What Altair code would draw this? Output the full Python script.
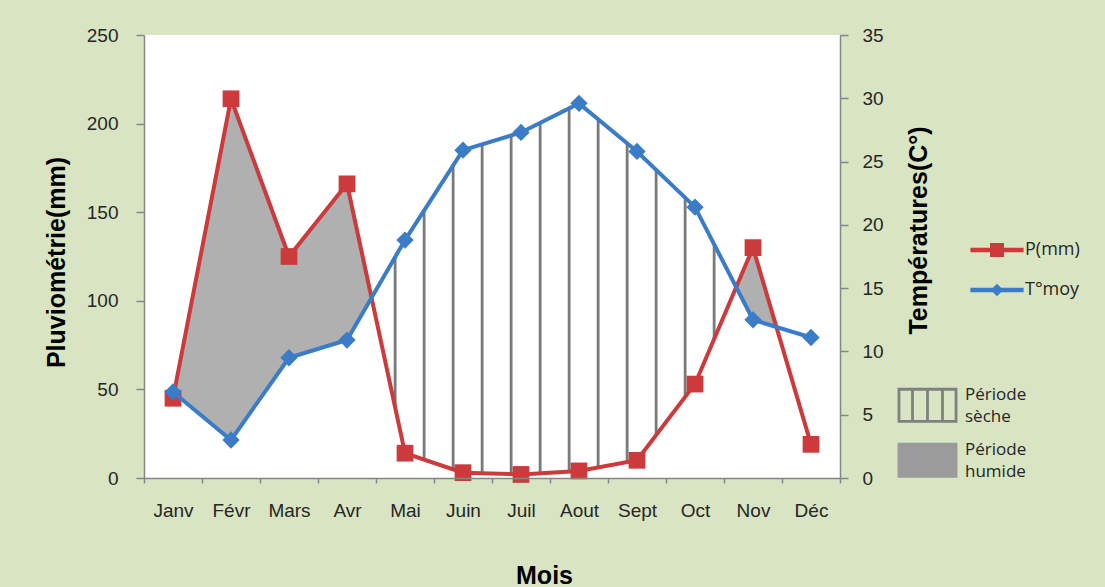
import json
import altair as alt
import pandas as pd

# ---------------- data ----------------
months = ["Janv", "Févr", "Mars", "Avr", "Mai", "Juin", "Juil", "Aout", "Sept", "Oct", "Nov", "Déc"]
precip = [45, 214, 125, 166, 14, 3, 2, 4, 10, 53, 130, 19]          # P(mm)
temp = [6.8, 3.0, 9.5, 10.9, 18.8, 25.9, 27.3, 29.6, 25.8, 21.4, 12.5, 11.1]  # T°moy (°C)
series_names = ["P(mm)", "T°moy"]
period_names = ["Période sèche", "Période humide"]
p_ticks = [0, 50, 100, 150, 200, 250]
t_ticks = [0, 5, 10, 15, 20, 25, 30, 35]

P_MAX = p_ticks[-1]
T_MAX = t_ticks[-1]
RATIO = P_MAX / T_MAX

df = pd.DataFrame({"idx": list(range(len(months))), "mois": months, "P": precip, "T": temp})
series_df = pd.DataFrame({"serie": series_names})
period_df = pd.DataFrame({"periode": period_names})
frame_df = pd.DataFrame({"x0": [-0.5], "x1": [len(months) - 0.5], "y0": [0], "y1": [P_MAX]})

# ---------------- style ----------------
FONT = "Open Sans"
BG = "#d9e4c2"
RED = "#cc3a3b"
BLUE = "#3b7cc8"
GREY = "#7a7a7a"
AXIS_GREY = "#868686"
LABEL = "#262626"

months_js = json.dumps(months, ensure_ascii=False)

x_axis = alt.Axis(
    values=[i - 0.5 for i in range(len(months) + 1)],
    labelExpr=f"datum.value < {len(months) - 1} ? {months_js}[round(datum.value + 0.5)] : ''",
    labelOffset=29, labelFlush=False, labelBound=False, labelOverlap=False,
    labelFontSize=19, labelColor=LABEL, labelPadding=18,
    tickSize=5, tickColor=AXIS_GREY, tickWidth=1.5,
    domainColor=AXIS_GREY, domainWidth=1.5, grid=False, zindex=1,
    title="Mois", titleFontSize=25, titleFontWeight="bold", titleColor="black",
    titleX=400, titleY=85, titleBaseline="top", titleAlign="center",
)

left_axis = alt.Axis(
    values=p_ticks, labelFontSize=19, labelColor=LABEL, labelPadding=18,
    tickSize=8, tickColor=AXIS_GREY, tickWidth=1.5,
    domainColor=AXIS_GREY, domainWidth=1.5, grid=False, zindex=1,
    title="Pluviométrie(mm)", titleFontSize=25, titleFontWeight="bold", titleColor="black",
    titleAngle=270, titleX=-88, titleY=227, titleAlign="center", titleBaseline="middle",
)

right_axis = alt.Axis(
    orient="right", values=t_ticks, labelFontSize=19, labelColor=LABEL, labelPadding=14,
    tickSize=8, tickColor=AXIS_GREY, tickWidth=1.5,
    domainColor=AXIS_GREY, domainWidth=1.5, grid=False, zindex=1,
    title="Températures(C°)", titleFontSize=25, titleFontWeight="bold", titleColor="black",
    titleAngle=270, titleX=78, titleY=195, titleAlign="center", titleBaseline="middle",
)

x_scale = alt.Scale(domain=[-0.5, len(months) - 0.5], nice=False, zero=False)
p_scale = alt.Scale(domain=[0, P_MAX], nice=False)
t_scale = alt.Scale(domain=[0, T_MAX], nice=False)


def xe(field):
    return alt.X(field, type="quantitative", scale=x_scale, axis=x_axis)


def yp(field):
    return alt.Y(field, type="quantitative", scale=p_scale, axis=left_axis)


base = alt.Chart(df)

# white plot area (also hides the legend-carrier points drawn underneath)
plot_bg = alt.Chart(frame_df).mark_rect(color="white", opacity=1).encode(
    x=xe("x0"), x2="x1:Q", y=yp("y0"), y2="y1:Q"
)

# wet period: grey under P, then white under scaled T -> grey remains where P > 2T
wet = base.mark_area(color="#8a8a8a", opacity=0.68).encode(x=xe("idx"), y=yp("P"), y2=alt.datum(0))
mask = base.transform_calculate(Ts=f"datum.T * {RATIO}").mark_area(color="white", opacity=1).encode(
    x=xe("idx"), y=yp("Ts"), y2=alt.datum(0)
)

# dry period: vertical hatch lines between scaled T (top) and P (bottom)
hatch_a = (
    base.transform_window(prevP="lag(P)", prevT="lag(T)", sort=[alt.SortField("idx")])
    .transform_filter("datum.prevP != null")
    .transform_calculate(
        hx="datum.idx - 0.17",
        hP="0.83 * datum.P + 0.17 * datum.prevP",
        hT=f"(0.83 * datum.T + 0.17 * datum.prevT) * {RATIO}",
    )
    .transform_filter("datum.hT > datum.hP && datum.hx > 3.5 && datum.hx < 10")
    .mark_rule(color=GREY, strokeWidth=2.8)
    .encode(x=xe("hx"), y=yp("hT"), y2="hP:Q")
)
hatch_b = (
    base.transform_window(nextP="lead(P)", nextT="lead(T)", sort=[alt.SortField("idx")])
    .transform_filter("datum.nextP != null")
    .transform_calculate(
        hx="datum.idx + 0.33",
        hP="0.67 * datum.P + 0.33 * datum.nextP",
        hT=f"(0.67 * datum.T + 0.33 * datum.nextT) * {RATIO}",
    )
    .transform_filter("datum.hT > datum.hP && datum.hx > 3.5 && datum.hx < 10")
    .mark_rule(color=GREY, strokeWidth=2.8)
    .encode(x=xe("hx"), y=yp("hT"), y2="hP:Q")
)

p_line = base.mark_line(color=RED, strokeWidth=4).encode(x=xe("idx"), y=yp("P"))
p_pts = base.mark_point(shape="square", filled=True, size=280, color=RED, opacity=1).encode(
    x=xe("idx"), y=yp("P")
)

left = alt.layer(plot_bg, wet, mask, hatch_a, hatch_b, p_line, p_pts)

yt = alt.Y("T:Q", scale=t_scale, axis=right_axis)
t_line = base.mark_line(color=BLUE, strokeWidth=4).encode(x=xe("idx"), y=yt)
t_pts = base.mark_point(shape="diamond", filled=True, size=300, color=BLUE, opacity=1).encode(
    x=xe("idx"), y=yt
)
right = alt.layer(t_line, t_pts)

# ---------------- legends ----------------
# filled symbol paths (line + marker drawn as filled shapes)
path_p = "M-1.9,-0.16H1.9V0.16H-1.9ZM-0.5,-0.5H0.5V0.5H-0.5Z"
path_t = "M-1.9,-0.16H1.9V0.16H-1.9ZM0,-0.45L0.45,0L0,0.45L-0.45,0Z"
leg1_kw = dict(orient="none", legendX=839, legendY=201, title=None, padding=0,
               symbolSize=784, symbolStrokeWidth=0, symbolOpacity=1, labelOffset=14, rowPadding=17,
               labelFontSize=18, labelColor=LABEL, labelFont=FONT)
leg1 = alt.Chart(series_df).mark_point(filled=True, size=4).encode(
    color=alt.Color("serie:N", scale=alt.Scale(domain=series_names, range=[RED, BLUE]),
                    legend=alt.Legend(**leg1_kw)),
    shape=alt.Shape("serie:N", scale=alt.Scale(domain=series_names, range=[path_p, path_t]),
                    legend=alt.Legend(**leg1_kw)),
)

D = 0.62  # vertical shift of the period symbols so the two-line labels sit like the reference


def rect(x0, x1, y0, y1, ccw=False):
    if ccw:
        return f"M{x0},{y0}V{y1}H{x1}V{y0}Z"
    return f"M{x0},{y0}H{x1}V{y1}H{x0}Z"


top, bot = round(-1 + D, 3), round(1 + D, 3)
th = 0.16
path_dry = rect(-1.71, 1.71, top, bot) + rect(-1.71 + th, 1.71 - th, round(top + th, 3), round(bot - th, 3), ccw=True)
for c in (-0.857, 0.0, 0.857):
    path_dry += rect(round(c - th / 2, 3), round(c + th / 2, 3), round(top + th, 3), round(bot - th, 3))
path_wet = rect(-1.71, 1.71, top, bot)

leg2_kw = dict(orient="none", legendX=766, legendY=342, title=None, padding=0,
               symbolSize=1225, symbolStrokeWidth=0, symbolOpacity=1, labelOffset=20, rowPadding=7,
               labelFontSize=17, labelColor=LABEL, labelFont=FONT,
               labelExpr="split(datum.label, ' ')")
leg2 = alt.Chart(period_df).mark_point(filled=True, size=4).encode(
    color=alt.Color("periode:N", scale=alt.Scale(domain=period_names, range=["#808080", "#9b9b9b"]),
                    legend=alt.Legend(**leg2_kw)),
    shape=alt.Shape("periode:N", scale=alt.Scale(domain=period_names, range=[path_dry, path_wet]),
                    legend=alt.Legend(**leg2_kw)),
)

chart = (
    alt.layer(leg1, leg2, left, right)
    .resolve_scale(y="independent", color="independent", shape="independent")
    .properties(
        width=696, height=443,
        autosize=alt.AutoSizeParams(type="none"),
        padding={"left": 144, "top": 35, "right": 265, "bottom": 109},
        background=BG,
    )
    .configure_view(fill="white", stroke=None)
    .configure_axis(labelFont=FONT, titleFont=FONT)
    .configure_legend(labelFont=FONT)
    .configure(style={"guide-label": {"lineHeight": 22}})
)

chart.save("out.html", embed_options={"renderer": "svg", "actions": False})
